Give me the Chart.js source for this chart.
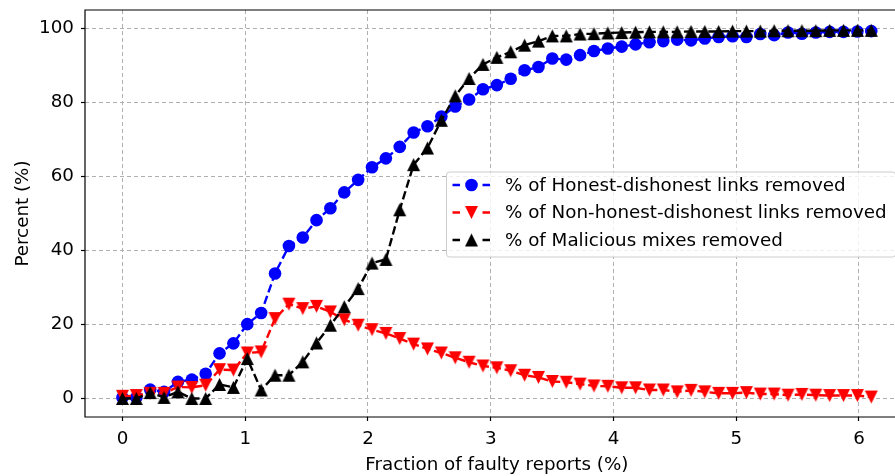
<!DOCTYPE html>
<html>
<head>
<meta charset="utf-8">
<script src="https://cdn.jsdelivr.net/npm/chart.js@4.4.1/dist/chart.umd.min.js"></script>
<style>
  html, body { margin: 0; padding: 0; background: #fff; overflow: hidden; width: 895px; height: 476px; }
  #wrap { width: 915px; height: 476px; position: relative; }
  canvas { display: block; }
</style>
</head>
<body>
<div id="wrap"><canvas id="c" width="915" height="476"></canvas></div>
<script>
// Fraction of faulty reports (%) at each measurement
const fraction = [
  0.000, 0.113, 0.226, 0.339, 0.452, 0.565, 0.678, 0.791, 0.904, 1.017,
  1.130, 1.243, 1.356, 1.469, 1.581, 1.694, 1.807, 1.920, 2.033, 2.146,
  2.259, 2.372, 2.485, 2.598, 2.711, 2.824, 2.937, 3.050, 3.163, 3.276,
  3.389, 3.502, 3.615, 3.728, 3.841, 3.954, 4.067, 4.180, 4.293, 4.406,
  4.519, 4.632, 4.744, 4.857, 4.970, 5.083, 5.196, 5.309, 5.422, 5.535,
  5.648, 5.761, 5.874, 5.987, 6.100
];

// % of honest-dishonest links removed
const honestDishonest = [
  0.3, 0.3, 2.4, 1.8, 4.5, 5.1, 6.7, 12.2, 14.9, 20.1,
  23.1, 33.8, 41.2, 43.5, 48.2, 51.4, 55.7, 59.1, 62.5, 64.9,
  68.0, 71.9, 73.6, 76.2, 78.9, 80.8, 83.6, 84.7, 86.4, 88.7,
  89.6, 91.9, 91.6, 92.8, 93.9, 94.6, 95.1, 95.7, 96.3, 96.6,
  97.0, 96.8, 97.3, 97.7, 97.9, 97.7, 98.5, 98.2, 98.9, 98.6,
  98.9, 99.1, 99.1, 99.2, 99.3
];

// % of non-honest-dishonest links removed
const nonHonestDishonest = [
  0.6, 0.8, 1.4, 1.4, 3.1, 3.0, 3.6, 7.8, 7.7, 12.3,
  12.6, 21.6, 25.5, 24.3, 24.9, 23.4, 21.3, 19.8, 18.6, 17.6,
  16.2, 14.7, 13.4, 12.3, 11.0, 9.8, 8.8, 8.3, 7.5, 6.3,
  5.7, 4.6, 4.4, 3.9, 3.4, 3.3, 2.9, 2.9, 2.3, 2.3,
  1.8, 2.2, 1.8, 1.4, 1.4, 1.6, 1.2, 1.2, 0.9, 1.1,
  0.9, 0.8, 0.8, 0.8, 0.4
];

// % of malicious mixes removed
const maliciousMixes = [
  0.0, 0.0, 1.6, 0.3, 1.8, 0.0, 0.0, 3.8, 3.0, 10.8,
  2.3, 6.3, 6.3, 9.9, 15.0, 19.8, 24.8, 29.7, 36.6, 37.6,
  51.0, 63.2, 67.7, 75.2, 81.8, 86.5, 90.3, 92.2, 93.7, 95.5,
  96.6, 98.0, 98.0, 98.5, 98.6, 98.8, 98.9, 99.0, 99.1, 99.1,
  99.1, 99.2, 99.2, 99.2, 99.3, 99.3, 99.3, 99.4, 99.4, 99.4,
  99.4, 99.5, 99.5, 99.5, 99.5
];

const seriesNames = [
  '% of Honest-dishonest links removed',
  '% of Non-honest-dishonest links removed',
  '% of Malicious mixes removed'
];

const xTicks = [0, 1, 2, 3, 4, 5, 6];
const yTicks = [0, 20, 40, 60, 80, 100];

const FONT = 'DejaVu Sans';
const FONT_SIZE = 18.3;

// Solid triangle marker sprites (pointing up or down), 13 px across
function triangleSprite(dir, color) {
  const c = document.createElement('canvas');
  c.width = 15; c.height = 15;
  const g = c.getContext('2d');
  g.fillStyle = color;
  g.beginPath();
  if (dir === 'up') {
    g.moveTo(7.5, 1); g.lineTo(14, 14); g.lineTo(1, 14);
  } else {
    g.moveTo(1, 1); g.lineTo(14, 1); g.lineTo(7.5, 14);
  }
  g.closePath();
  g.fill();
  return c;
}
const triDown = triangleSprite('down', '#ff0000');
const triUp = triangleSprite('up', '#000000');

const toPoints = (xs, ys) => xs.map((x, i) => ({ x: x, y: ys[i] }));

const DASH = [8.5, 3.7];
const LINE_W = 2.4;
const MARKER_R = 6.3;

const datasets = [
  {
    label: seriesNames[0],
    data: toPoints(fraction, honestDishonest),
    borderColor: '#0000ff',
    backgroundColor: '#0000ff',
    pointBackgroundColor: '#0000ff',
    pointBorderColor: '#0000ff',
    pointBorderWidth: 0,
    pointStyle: 'circle',
    pointRadius: MARKER_R,
    pointHoverRadius: MARKER_R,
    borderWidth: LINE_W,
    borderDash: DASH,
    order: 3
  },
  {
    label: seriesNames[1],
    data: toPoints(fraction, nonHonestDishonest),
    borderColor: '#ff0000',
    backgroundColor: '#ff0000',
    pointBorderWidth: 0,
    pointStyle: triDown,
    pointRadius: MARKER_R,
    pointHoverRadius: MARKER_R,
    borderWidth: LINE_W,
    borderDash: DASH,
    order: 2
  },
  {
    label: seriesNames[2],
    data: toPoints(fraction, maliciousMixes),
    borderColor: '#000000',
    backgroundColor: '#000000',
    pointBorderWidth: 0,
    pointStyle: triUp,
    pointRadius: MARKER_R,
    pointHoverRadius: MARKER_R,
    borderWidth: LINE_W,
    borderDash: DASH,
    order: 1
  }
];

const legendMarkers = [
  { type: 'circle', color: '#0000ff' },
  { type: 'sprite', img: triDown },
  { type: 'sprite', img: triUp }
];

// Axes frame (spines)
const framePlugin = {
  id: 'frame',
  afterDatasetsDraw(chart) {
    const { ctx, chartArea: a } = chart;
    ctx.save();
    ctx.strokeStyle = '#000';
    ctx.lineWidth = 1.2;
    ctx.beginPath();
    ctx.moveTo(a.left, a.top); ctx.lineTo(a.right, a.top);
    ctx.lineTo(a.right, a.bottom); ctx.lineTo(a.left, a.bottom);
    ctx.closePath();
    ctx.stroke();
    ctx.restore();
  }
};

// Legend box placed inside the plot
const legendPlugin = {
  id: 'insideLegend',
  afterDraw(chart) {
    const ctx = chart.ctx;
    ctx.save();
    ctx.font = FONT_SIZE + 'px "' + FONT + '"';
    const left = 446.5, top = 172, bottom = 257;
    const textX = 505;
    let maxW = 0;
    chart.data.datasets.forEach(d => { maxW = Math.max(maxW, ctx.measureText(d.label).width); });
    const right = textX + maxW + 9;
    const r = 3;
    ctx.beginPath();
    ctx.moveTo(left + r, top);
    ctx.lineTo(right - r, top);
    ctx.arcTo(right, top, right, top + r, r);
    ctx.lineTo(right, bottom - r);
    ctx.arcTo(right, bottom, right - r, bottom, r);
    ctx.lineTo(left + r, bottom);
    ctx.arcTo(left, bottom, left, bottom - r, r);
    ctx.lineTo(left, top + r);
    ctx.arcTo(left, top, left + r, top, r);
    ctx.closePath();
    ctx.fillStyle = 'rgba(255,255,255,0.8)';
    ctx.fill();
    ctx.strokeStyle = '#cccccc';
    ctx.lineWidth = 1;
    ctx.stroke();

    const rows = [185, 212.5, 240];
    chart.data.datasets.forEach((d, i) => {
      const y = rows[i];
      const m = legendMarkers[i];
      ctx.save();
      ctx.strokeStyle = d.borderColor;
      ctx.lineWidth = LINE_W;
      ctx.setLineDash([7.5, 22.5]);
      ctx.beginPath();
      ctx.moveTo(452.5, y); ctx.lineTo(490.5, y);
      ctx.stroke();
      ctx.restore();
      if (m.type === 'circle') {
        ctx.fillStyle = m.color;
        ctx.beginPath();
        ctx.arc(471.5, y, MARKER_R, 0, Math.PI * 2);
        ctx.fill();
      } else {
        ctx.drawImage(m.img, 471.5 - 7.5, y - 7.5);
      }
      ctx.fillStyle = '#000';
      ctx.textBaseline = 'middle';
      ctx.textAlign = 'left';
      ctx.fillText(d.label, textX, y + 1);
    });
    ctx.restore();
  }
};

const tickFont = { family: FONT, size: FONT_SIZE };

new Chart(document.getElementById('c'), {
  type: 'line',
  data: { datasets: datasets },
  options: {
    responsive: false,
    animation: false,
    devicePixelRatio: 1,
    layout: { padding: { top: 10, right: 1, left: 0, bottom: 0 } },
    plugins: { legend: { display: false }, tooltip: { enabled: false } },
    elements: { line: { tension: 0 } },
    scales: {
      x: {
        type: 'linear',
        min: -0.305,
        max: 6.405,
        afterBuildTicks: s => { s.ticks = xTicks.map(v => ({ value: v })); },
        afterFit: s => { s.height = 59; s.paddingLeft = 0; s.paddingRight = 0; },
        grid: { color: '#b0b0b0', lineWidth: 1, tickLength: 4, tickColor: '#000', tickWidth: 1.2, tickBorderDash: [] },
        border: { display: false, dash: [4, 3] },
        ticks: { color: '#000', font: tickFont, padding: 7, maxRotation: 0, autoSkip: false },
        title: { display: true, text: 'Fraction of faulty reports (%)', color: '#000', font: tickFont, padding: { top: 3, bottom: 0 } }
      },
      y: {
        type: 'linear',
        min: -5,
        max: 105,
        afterBuildTicks: s => { s.ticks = yTicks.map(v => ({ value: v })); },
        afterFit: s => { s.width = 85; s.paddingTop = 0; s.paddingBottom = 0; },
        grid: { color: '#b0b0b0', lineWidth: 1, tickLength: 4, tickColor: '#000', tickWidth: 1.2, tickBorderDash: [] },
        border: { display: false, dash: [4, 3] },
        ticks: { color: '#000', font: tickFont, padding: 7, autoSkip: false },
        title: { display: true, text: 'Percent (%)', color: '#000', font: tickFont, padding: { top: 12, bottom: 0 } }
      }
    }
  },
  plugins: [framePlugin, legendPlugin]
});
</script>
</body>
</html>
